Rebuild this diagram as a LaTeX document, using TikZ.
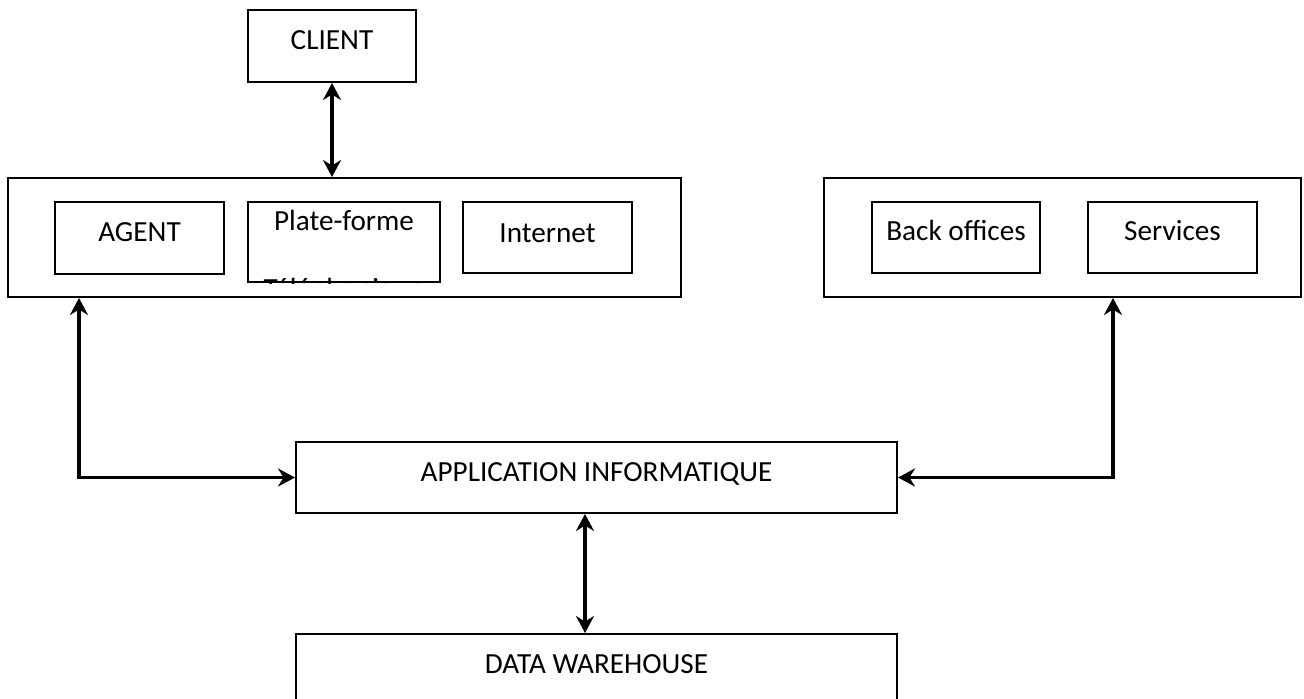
\documentclass[tikz,border=0pt]{standalone}
\usepackage{fontspec}
\setmainfont{Carlito}
\usetikzlibrary{arrows.meta,positioning}

\tikzset{
    box/.style = {draw, line width = 1pt, inner sep = 0pt, text height = 9.4pt, text depth = 6pt},
    link/.style = {line width = 1.6pt, {Stealth[length = 8.5pt, width = 9pt, inset = 2.8pt]}-{Stealth[length = 8.5pt, width = 9pt, inset = 2.8pt]}}
}

\begin{document}
\begin{tikzpicture}[x = 0.5pt, y = -0.5pt, every node/.append style = {font = \fontsize{14.6pt}{17.5pt}\selectfont}]
        \useasboundingbox (0,0) rectangle (1304,698);
        \clip (0,0) rectangle (1304,698);
        \node[box, minimum width = 84pt, minimum height = 36pt] (client) at (332,46) {CLIENT};
        \begin{scope}
            \node[box, minimum width = 336.5pt, minimum height = 59.5pt] (grpL) at (344.5,237.5) {};
            \node[box, minimum width = 84.5pt, minimum height = 36pt] (agent) at (139.5,238) {AGENT};
            \node[box, minimum width = 96pt, minimum height = 40pt, text depth = 21pt] (plate) at (344,242) {Plate-forme};
            \node[box, minimum width = 84.5pt, minimum height = 35.5pt, text depth = 4.5pt] (internet) at (547.5,237.5) {Internet};
        \end{scope}
        \begin{scope}
            \clip (plate.south west) rectangle (plate.north east);
            \node[anchor = base] (tel) at (344,298) {Téléphonique};
        \end{scope}
        \begin{scope}[every node/.append style = {text depth = 14.5pt}]
            \node[box, minimum width = 238.5pt, minimum height = 59.5pt, text depth = 6pt] (grpR) at (1062.5,237.5) {};
            \node[box, minimum width = 84pt, minimum height = 35.5pt] (back) at (956,237.5) {Back offices};
            \node[box, minimum width = 84.5pt, minimum height = 35.5pt] (services) at (1172.5,237.5) {Services};
        \end{scope}
        \node[box, minimum width = 300.5pt, minimum height = 35.5pt, text depth = 5.5pt] (app) at (596.5,477.5) {APPLICATION INFORMATIQUE};
        \node[box, minimum width = 300.5pt, minimum height = 35.5pt, text depth = 5.5pt] (dw) at (596.5,669.5) {DATA WAREHOUSE};
        \draw[link] (client.south) -- (client.south |- grpL.north);
        \draw[link] ([xshift = 36pt]grpL.south west) |- (app.west);
        \draw[link] ([xshift = -94.5pt]grpR.south east) |- (app.east);
        \draw[link] ([xshift = -5.75pt]app.south) -- ([xshift = -5.75pt]dw.north);
\end{tikzpicture}
\end{document}
